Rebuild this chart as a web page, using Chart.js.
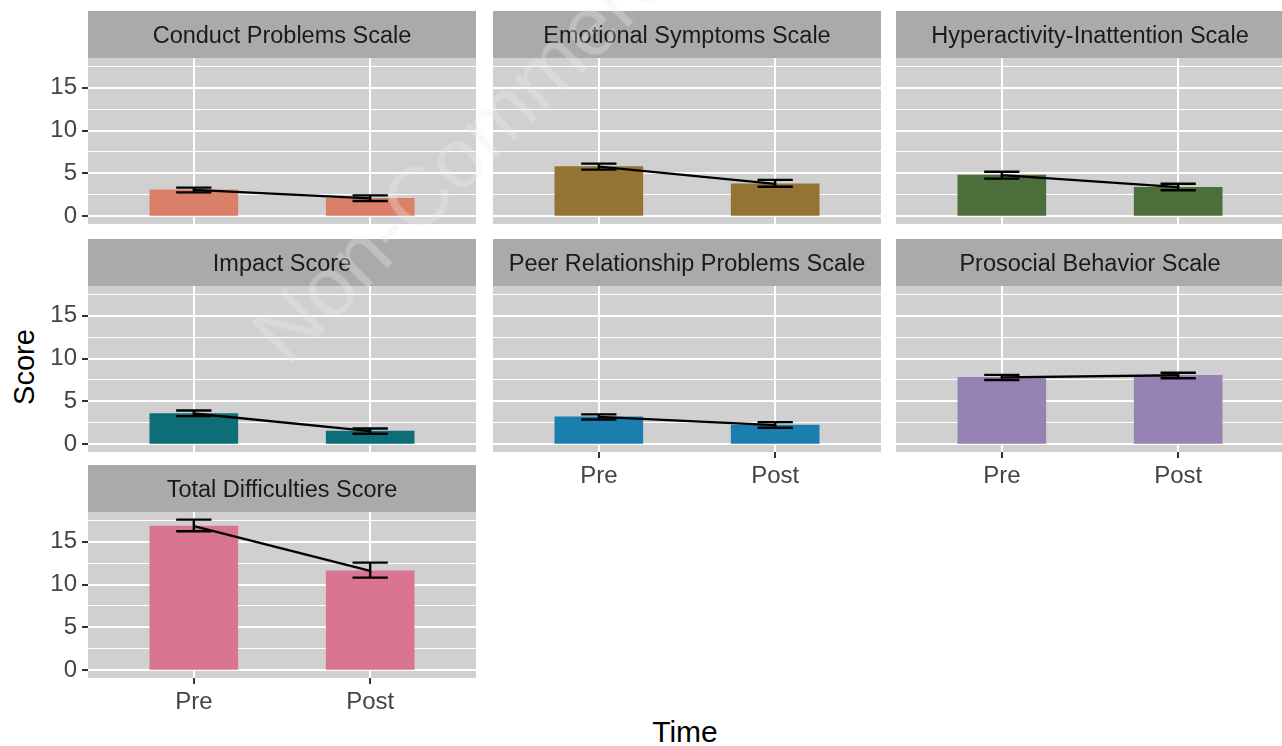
<!DOCTYPE html>
<html>
<head>
<meta charset="utf-8">
<script src="https://cdn.jsdelivr.net/npm/chart.js@4.4.1/dist/chart.umd.min.js"></script>
<style>
  body { margin: 0; background: #fff; width: 1282px; height: 746px; overflow: hidden; position: relative;
         font-family: "Liberation Sans", Arial, sans-serif; }
  canvas { position: absolute; }
  .axis-title { position: absolute; color: #000; white-space: nowrap; }
  #watermark { position: absolute; left: 490px; top: 125px; font-size: 84px; white-space: nowrap;
               color: rgba(235, 235, 235, 0.32); transform: translate(-50%, -50%) rotate(-45deg); pointer-events: none; }
</style>
</head>
<body>
<div class="axis-title" style="left:24px; top:367px; font-size:29px; transform: translate(-50%, -50%) rotate(-90deg);">Score</div>
<div class="axis-title" style="left:685px; top:732px; font-size:30px; transform: translate(-50%, -50%);">Time</div>

<script>
/* facets and x categories */
const scaleNames = [
    "Conduct Problems Scale",
    "Emotional Symptoms Scale",
    "Hyperactivity-Inattention Scale",
    "Impact Score",
    "Peer Relationship Problems Scale",
    "Prosocial Behavior Scale",
    "Total Difficulties Score",
];
const timeLabels = ["Pre", "Post"];

/* mean scores */
const preMean  = [3.1, 5.8, 4.8, 3.6, 3.2, 7.8, 16.8];
const postMean = [2.1, 3.8, 3.4, 1.55, 2.25, 8.05, 11.6];

/* error bar limits */
const preLow   = [2.8, 5.45, 4.4, 3.3, 2.9, 7.5, 16.2];
const preHigh  = [3.35, 6.15, 5.2, 3.95, 3.5, 8.1, 17.55];
const postLow  = [1.8, 3.45, 3.05, 1.25, 1.95, 7.7, 10.8];
const postHigh = [2.45, 4.25, 3.8, 1.85, 2.6, 8.35, 12.55];

/* y axis ticks (major every 5, minor in between) */
const yTicks = [0, 2.5, 5, 7.5, 10, 12.5, 15, 17.5];

/* color palette */
const barColors = ["#da8068", "#957433", "#4b6e3b", "#0e6e78", "#1a7fae", "#9683b3", "#d97590"];

const panelBg = "#d0d0d0";
const stripBg = "#abaaab";
const colLeft = [88, 493, 896];
const rowTop = [11, 239, 465];
const panelW = 388, panelH = 166, stripH = 47;

Chart.defaults.font.family = '"Liberation Sans", Arial, sans-serif';

/* panel background, facet strip and error bars */
const panelPlugin = {
    id: "panel",
    beforeDraw(chart, args, opts) {
        const { ctx, chartArea: a } = chart;
        ctx.save();
        ctx.fillStyle = panelBg;
        ctx.fillRect(a.left, a.top, a.right - a.left, a.bottom - a.top);
        ctx.fillStyle = stripBg;
        ctx.fillRect(a.left, a.top - stripH, a.right - a.left, stripH);
        ctx.fillStyle = "#1a1a1a";
        ctx.font = '23.5px "Liberation Sans", Arial, sans-serif';
        ctx.textAlign = "center";
        ctx.textBaseline = "middle";
        ctx.fillText(opts.title, (a.left + a.right) / 2, a.top - stripH / 2 + 2.5);
        ctx.restore();
    },
    afterDatasetsDraw(chart, args, opts) {
        const { ctx, scales: { x, y } } = chart;
        ctx.save();
        ctx.strokeStyle = "#000";
        ctx.lineWidth = 2.4;
        opts.lo.forEach((lo, k) => {
            const hi = opts.hi[k];
            const xc = x.getPixelForValue(k + 1);
            const xl = x.getPixelForValue(k + 1 - 0.1);
            const xr = x.getPixelForValue(k + 1 + 0.1);
            const yl = y.getPixelForValue(lo);
            const yh = y.getPixelForValue(hi);
            ctx.beginPath();
            ctx.moveTo(xl, yh); ctx.lineTo(xr, yh);
            ctx.moveTo(xc, yh); ctx.lineTo(xc, yl);
            ctx.moveTo(xl, yl); ctx.lineTo(xr, yl);
            ctx.stroke();
        });
        ctx.restore();
    },
};

scaleNames.forEach((name, i) => {
    const col = i % 3, row = Math.floor(i / 3);
    const showY = col === 0;
    const showX = i >= 4; // bottom panel of each column
    const yW = showY ? 88 : 0;
    const xH = showX ? 44 : 0;

    const cv = document.createElement("canvas");
    cv.width = yW + panelW;
    cv.height = stripH + panelH + xH;
    cv.style.left = (colLeft[col] - yW) + "px";
    cv.style.top = rowTop[row] + "px";
    document.body.appendChild(cv);

    const points = [
        { x: 1, y: preMean[i] },
        { x: 2, y: postMean[i] },
    ];

    new Chart(cv, {
        type: "bar",
        data: {
            datasets: [
                {
                    type: "line",
                    data: points,
                    borderColor: "#000",
                    borderWidth: 2.3,
                    pointRadius: 0,
                    order: 0,
                },
                {
                    type: "bar",
                    data: points,
                    backgroundColor: barColors[i],
                    barThickness: 88,
                    order: 1,
                },
            ],
        },
        options: {
            responsive: false,
            animation: false,
            events: [],
            layout: { padding: { top: stripH, left: 0, right: 0, bottom: 0 } },
            plugins: {
                legend: { display: false },
                tooltip: { enabled: false },
                panel: {
                    title: name,
                    lo: [preLow[i], postLow[i]],
                    hi: [preHigh[i], postHigh[i]],
                },
            },
            scales: {
                x: {
                    type: "linear",
                    min: 0.4,
                    max: 2.6,
                    offset: false,
                    afterBuildTicks: (s) => { s.ticks = timeLabels.map((t, k) => ({ value: k + 1 })); },
                    afterFit: (s) => {
                        s.height = xH;
                        s.paddingLeft = 0; s.paddingRight = 0;
                    },
                    grid: { offset: false, color: "#fff", lineWidth: 2, tickColor: "#333", tickLength: 6, drawTicks: showX },
                    border: { display: false },
                    ticks: {
                        display: showX,
                        color: "#444",
                        font: { size: 24 },
                        padding: 4,
                        maxRotation: 0,
                        autoSkip: false,
                        callback: (v) => timeLabels[v - 1],
                    },
                },
                y: {
                    min: -0.88,
                    max: 18.44,
                    afterBuildTicks: (s) => { s.ticks = yTicks.map((v) => ({ value: v })); },
                    afterFit: (s) => {
                        s.width = yW;
                        s.paddingTop = 0; s.paddingBottom = 0;
                    },
                    grid: {
                        color: "#fff",
                        lineWidth: (c) => (c.tick && c.tick.value % 5 ? 1 : 2),
                        tickColor: (c) => (c.tick && c.tick.value % 5 ? "rgba(0,0,0,0)" : "#333"),
                        tickLength: 6,
                        drawTicks: showY,
                    },
                    border: { display: false },
                    ticks: {
                        display: showY,
                        color: "#444",
                        font: { size: 24 },
                        padding: 5,
                        autoSkip: false,
                        callback: (v) => (v % 5 ? "" : v),
                    },
                },
            },
        },
        plugins: [panelPlugin],
    });
});
</script>
<div id="watermark">Non-Commercial</div>
</body>
</html>
